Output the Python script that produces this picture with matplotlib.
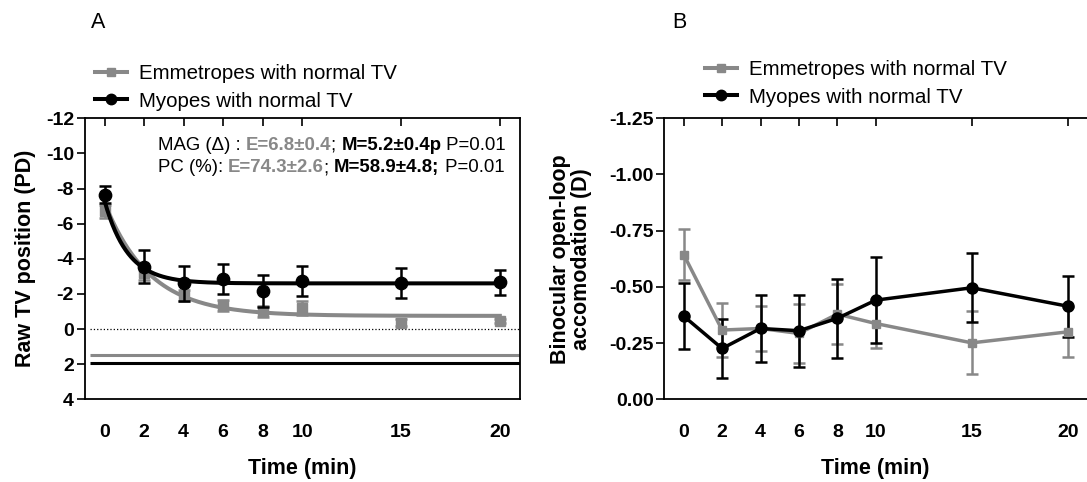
import numpy as np
import matplotlib
matplotlib.use("Agg")
import matplotlib.pyplot as plt
from matplotlib.offsetbox import TextArea, HPacker, VPacker, AnchoredOffsetbox

plt.rcParams['font.family'] = ['Liberation Sans', 'DejaVu Sans']
plt.rcParams['axes.unicode_minus'] = False

time_min = [0, 2, 4, 6, 8, 10, 15, 20]

# A: raw TV position (PD), mean and SEM
emm_tv = [-6.7, -3.2, -1.9, -1.35, -1.0, -1.2, -0.35, -0.45]
emm_tv_sem = [0.35, 0.4, 0.3, 0.3, 0.3, 0.4, 0.2, 0.12]
myo_tv = [-7.65, -3.55, -2.6, -2.85, -2.15, -2.75, -2.6, -2.65]
myo_tv_sem = [0.5, 0.95, 1.0, 0.85, 0.9, 0.85, 0.85, 0.72]

# one-phase decay fits: start value, plateau, rate constant
emm_fit = (-7.2, -0.75, 0.44)
myo_fit = (-7.3, -2.6, 0.85)

# normal TV reference positions
emm_normal = 1.45
myo_normal = 1.95

tv_ticks = [-12, -10, -8, -6, -4, -2, 0, 2, 4]

# B: binocular open-loop accommodation (D), mean and SEM
emm_acc = [-0.644, -0.308, -0.315, -0.293, -0.379, -0.337, -0.251, -0.30]
emm_acc_sem = [0.115, 0.12, 0.10, 0.13, 0.135, 0.11, 0.14, 0.11]
myo_acc = [-0.37, -0.226, -0.315, -0.305, -0.36, -0.441, -0.496, -0.414]
myo_acc_sem = [0.147, 0.13, 0.15, 0.16, 0.175, 0.19, 0.153, 0.135]

acc_ticks = [0, -0.25, -0.5, -0.75, -1.0, -1.25]

GREY = '#888888'
BLACK = '#000000'
TICK_FS = 14
LABEL_FS = 15.5
LEGEND_FS = 14.8


def decay(x, params):
    y0, plateau, k = params
    return plateau + (y0 - plateau) * np.exp(-k * x)


def style_axes(ax, yticks, ylabels):
    for side in ['left', 'top', 'bottom', 'right']:
        ax.spines[side].set_linewidth(1.3)
    ax.set_xticks(time_min)
    ax.set_xticklabels([str(t) for t in time_min], fontweight='bold')
    ax.set_yticks(yticks)
    ax.set_yticklabels(ylabels, fontweight='bold')
    ax.tick_params(axis='x', bottom=False, top=True, direction='in', length=5.5,
                   width=1.2, labelsize=TICK_FS, pad=18)
    ax.tick_params(axis='y', direction='out', length=5.8, width=1.2,
                   labelsize=TICK_FS, pad=2)
    ax.set_xlabel('Time (min)', fontsize=LABEL_FS, fontweight='bold')
    ax.xaxis.set_label_coords(0.5, -0.21)


def add_legend(ax, x_px, y_px):
    h_e, = ax.plot([], [], '-s', color=GREY, linewidth=2.9, markersize=5.5)
    h_m, = ax.plot([], [], '-o', color=BLACK, linewidth=2.9, markersize=7.5)
    ax.legend([h_e, h_m], ['Emmetropes with normal TV', 'Myopes with normal TV'],
              loc='upper left', bbox_to_anchor=(x_px / 1087, 1 - y_px / 482),
              bbox_transform=fig.transFigure, frameon=False, fontsize=LEGEND_FS,
              handlelength=1.55, handletextpad=0.6, labelspacing=0.42,
              borderpad=0, borderaxespad=0)


fig = plt.figure(figsize=(10.87, 4.82), dpi=100)
axA = fig.add_axes([0.078, 0.1716, 0.400, 0.583])
axB = fig.add_axes([0.6113, 0.1716, 0.3887, 0.583])

# ---- panel A
xs = np.linspace(0, 20, 300)
axA.hlines(0, -0.75, 21, colors=BLACK, linestyles=':', linewidth=0.9)
axA.hlines(emm_normal, -0.75, 21, colors=GREY, linewidth=2.2)
axA.hlines(myo_normal, -0.75, 21, colors=BLACK, linewidth=2.2)

axA.errorbar(time_min, emm_tv, yerr=emm_tv_sem, fmt='none', ecolor=GREY,
             elinewidth=1.8, capsize=4.3, capthick=1.8)
axA.plot(time_min, emm_tv, 's', color=GREY, markersize=6.5, linestyle='none')
axA.plot(xs, decay(xs, emm_fit), color=GREY, linewidth=2.9)

axA.errorbar(time_min, myo_tv, yerr=myo_tv_sem, fmt='none', ecolor=BLACK,
             elinewidth=1.8, capsize=4.3, capthick=1.8)
axA.plot(xs, decay(xs, myo_fit), color=BLACK, linewidth=2.9)
axA.plot(time_min, myo_tv, 'o', color=BLACK, markersize=8.9, linestyle='none')

axA.set_xlim(-1, 21)
axA.set_ylim(4, -12)
style_axes(axA, tv_ticks, [str(t) for t in tv_ticks])
axA.set_ylabel('Raw TV position (PD)', fontsize=LABEL_FS, fontweight='bold')
axA.yaxis.set_label_coords(-0.113, 0.5)
add_legend(axA, 95, 64)


# statistics box: grey = emmetropes, black bold = myopes
def row(parts):
    boxes = []
    for txt, color, weight in parts:
        boxes.append(TextArea(txt, textprops=dict(color=color, fontweight=weight,
                                                  fontsize=13.4)))
    return HPacker(children=boxes, align='baseline', pad=0, sep=0)


row1 = row([('MAG (\u0394) : ', BLACK, 'normal'),
            ('E=6.8\u00b10.4', GREY, 'bold'),
            ('; ', BLACK, 'normal'),
            ('M=5.2\u00b10.4p', BLACK, 'bold'),
            (' P=0.01', BLACK, 'normal')])
row2 = row([('PC (%): ', BLACK, 'normal'),
            ('E=74.3\u00b12.6', GREY, 'bold'),
            ('; ', BLACK, 'normal'),
            ('M=58.9\u00b14.8;', BLACK, 'bold'),
            (' P=0.01', BLACK, 'normal')])
stats = VPacker(children=[row1, row2], align='left', pad=0, sep=4)
axA.add_artist(AnchoredOffsetbox(loc='upper left', child=stats, pad=0, borderpad=0,
                                 frameon=False, bbox_to_anchor=(0.168, 0.935),
                                 bbox_transform=axA.transAxes))

fig.text(98 / 1087, 1 - 23 / 482, 'A', fontsize=15.5, ha='center', va='center')

# ---- panel B
axB.errorbar(time_min, emm_acc, yerr=emm_acc_sem, fmt='-s', color=GREY,
             ecolor=GREY, elinewidth=1.8, capsize=4.3, capthick=1.8,
             linewidth=2.5, markersize=5.5)
axB.errorbar(time_min, myo_acc, yerr=myo_acc_sem, fmt='-o', color=BLACK,
             ecolor=BLACK, elinewidth=1.8, capsize=4.3, capthick=1.8,
             linewidth=2.5, markersize=8)
axB.set_xlim(-1, 21)
axB.set_ylim(0, -1.25)
style_axes(axB, acc_ticks, ['%.2f' % v if v != 0 else '0.00' for v in acc_ticks])
axB.spines['right'].set_visible(False)
axB.set_ylabel('Binocular open-loop\naccomodation (D)', fontsize=LABEL_FS,
               fontweight='bold', linespacing=1.0)
axB.yaxis.set_label_coords(-0.172, 0.5)
add_legend(axB, 705, 60)

fig.text(679 / 1087, 1 - 23 / 482, 'B', fontsize=15.5, ha='center', va='center')

fig.savefig('out.png', dpi=100)
